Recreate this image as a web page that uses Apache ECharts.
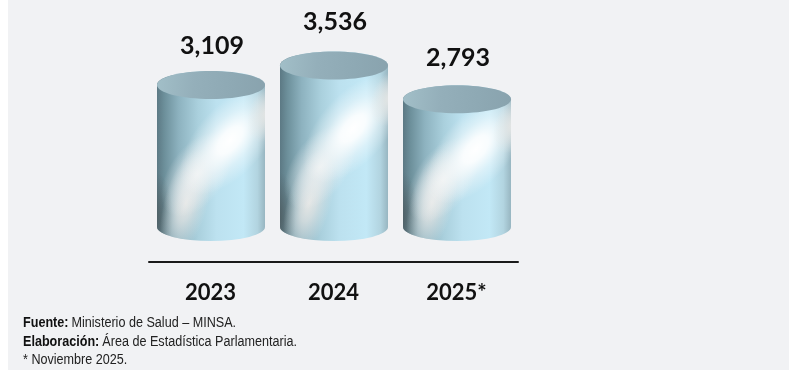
<!DOCTYPE html>
<html><head><meta charset="utf-8">
<style>html,body{margin:0;padding:0;background:#fff}#c{position:absolute;left:0;top:0;width:791px;height:370px}</style>
<script src="https://cdn.jsdelivr.net/npm/echarts@6/dist/echarts.min.js"></script>
</head><body><div id="c"></div>
<script>
const categories = ['2023', '2024', '2025*'];
const values = [3109, 3536, 2793];
const labelLift = [39, 43, 41];

const BG = '#f1f2f4';
function grad(stops, x2, y2) {
  return {type:'linear', x:0, y:0, x2:x2, y2:y2,
    colorStops: stops.map(s => ({offset:s[0], color:s[1]}))};
}
const bodyStops = [[0,'#5c7984'],[0.07,'#6d909b'],[0.2,'#8db2bf'],[0.38,'#aad0dd'],[0.55,'#bce1ef'],[0.8,'#c2e8f6'],[0.93,'#b2d4e0'],[1,'#98b6c1']];
const capStops = [[0,'#a2bfc8'],[0.35,'#94afba'],[0.7,'#8ea9b4'],[1,'#89a3ae']];

function renderItem(params, api) {
  const i = api.value(0);
  const base = api.coord([i, 0]);
  const top = api.coord([i, api.value(1)]);
  const rx = 54, ry = 14;
  const cx = base[0] + 0.5, yT = top[1], yB = base[1];
  const h = yB - yT;
  const bodyPath = `M${cx-rx} ${yT}L${cx-rx} ${yB}A${rx} ${ry} 0 0 0 ${cx+rx} ${yB}L${cx+rx} ${yT}A${rx} ${ry} 0 0 0 ${cx-rx} ${yT}Z`;
  const rect = {x:cx-rx, y:yT-ry, width:2*rx, height:h+2*ry, layout:'cover'};
  const clip = {type:'path', shape:Object.assign({pathData:bodyPath}, rect)};
  const blob = (x, y, a, b, rot, stops) => ({
    type:'circle', shape:{cx:0, cy:0, r:1}, x:x, y:y, rotation:rot, scaleX:a, scaleY:b, silent:true,
    style:{fill:{type:'radial', x:0.5, y:0.5, r:0.5, colorStops:stops.map(s=>({offset:s[0], color:s[1]}))}}
  });
  return {type:'group', children:[
    {type:'path', shape:Object.assign({pathData:bodyPath}, rect), style:{fill:grad(bodyStops,1,0)}},
    {type:'group', clipPath:clip, children:[
      blob(cx-56, yB-10, 18, 46, 0, [[0,'rgba(75,88,92,0.8)'],[1,'rgba(75,88,92,0)']]),
      blob(cx-25, yB-24, 56, 22, 1.3, [[0,'rgba(232,232,230,0.95)'],[0.35,'rgba(230,231,230,0.7)'],[1,'rgba(220,228,230,0)']]),
      blob(cx-14, yT+h*0.63, 48, 28, 0.95, [[0,'rgba(242,243,243,0.85)'],[0.4,'rgba(240,242,243,0.55)'],[1,'rgba(240,242,243,0)']]),
      blob(cx+19, yT+h*0.39, 66, 34, 0.85, [[0,'rgba(255,255,255,1)'],[0.25,'rgba(255,255,255,0.9)'],[0.6,'rgba(255,255,255,0.4)'],[1,'rgba(255,255,255,0)']]),
      blob(cx+56, yT+h*0.2, 30, 18, 1.2, [[0,'rgba(232,232,230,0.95)'],[0.45,'rgba(232,232,230,0.55)'],[1,'rgba(232,232,230,0)']])
    ]},
    {type:'ellipse', shape:{cx:cx, cy:yT, rx:rx, ry:ry}, style:{fill:grad(capStops,1,0.3)}},
    {type:'text', x:cx+1, y:yT-labelLift[i], style:{
      text:api.value(1).toLocaleString('en-US'), fill:'#111', align:'center', verticalAlign:'middle',
      font:'bold 25px Lato, sans-serif'}}
  ]};
}

const chart = echarts.init(document.getElementById('c'), null, {renderer:'canvas'});
chart.setOption({
  animation:false,
  backgroundColor:BG,
  grid:{left:149, right:273, top:10, bottom:108},
  xAxis:{type:'category', data:categories, position:'bottom',
    axisLine:{onZero:false, lineStyle:{color:'#1a1a1a', width:2}},
    axisTick:{show:false},
    axisLabel:{margin:20, color:'#111', fontFamily:'Lato, sans-serif', fontWeight:'bold', fontSize:22}},
  yAxis:{type:'value', min:-766, max:4748, show:false, splitLine:{show:false}},
  series:[{type:'custom', renderItem:renderItem, clip:false, data:values.map((v,i)=>[i,v])}],
  graphic:[
    {type:'rect', left:0, top:0, shape:{width:8, height:370}, style:{fill:'#fff'}},
    {type:'rect', right:0, top:0, shape:{width:2, height:370}, style:{fill:'#fff'}},
    {type:'text', x:23, y:314, scaleX:0.9, style:{
      rich:{b:{font:'bold 14px "Liberation Sans", sans-serif', fill:'#111', lineHeight:18.5},
            n:{font:'14px "Liberation Sans", sans-serif', fill:'#222', lineHeight:18.5}},
      text:'{b|Fuente:} {n|Ministerio de Salud – MINSA.}\n{b|Elaboración:} {n|Área de Estadística Parlamentaria.}\n{n|* Noviembre 2025.}'
    }}
  ]
});
</script></body></html>
